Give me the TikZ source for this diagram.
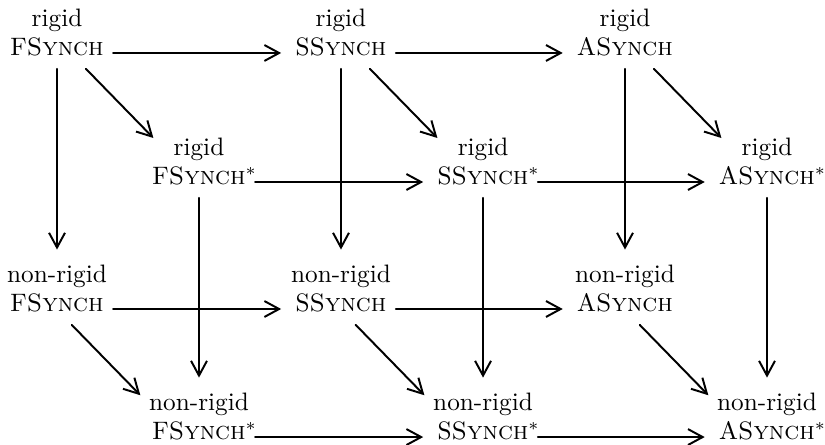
\documentclass[tikz,border=0pt]{standalone}
\usepackage{fontspec}
\usetikzlibrary{arrows.meta}
\tikzset{
  main/.style={inner xsep=3.7pt, inner ysep=0.5pt, text height=1.5ex, text depth=1.1ex},
  upper/.style={inner xsep=2pt, inner ysep=4pt, anchor=base},
  arr/.style={draw, line width=0.8pt, line cap=round, -{Straight Barb[length=6pt,width=6.5pt]}, shorten >=2pt},
}
\newcommand{\fsynch}{F\textsc{Synch}}
\newcommand{\ssynch}{S\textsc{Synch}}
\newcommand{\asynch}{A\textsc{Synch}}
\newcommand{\st}{\rlap{$^*$}}

\begin{document}
\fontsize{10.3}{12.4}\selectfont
\begin{tikzpicture}
  \useasboundingbox (0,0) rectangle (11.836,-6.370);
  % back face: rigid / non-rigid
  \coordinate (RF) at (0.818,-0.760);
  \coordinate (RS) at (4.892,-0.760);
  \coordinate (RA) at (8.967,-0.760);
  \coordinate (NF) at (0.818,-4.433);
  \coordinate (NS) at (4.892,-4.433);
  \coordinate (NA) at (8.967,-4.433);
  % front face: starred
  \coordinate (RFs) at ( 2.855,-2.611);
  \coordinate (RSs) at ( 6.930,-2.611);
  \coordinate (RAs) at (11.004,-2.611);
  \coordinate (NFs) at ( 2.855,-6.270);
  \coordinate (NSs) at ( 6.930,-6.270);
  \coordinate (NAs) at (11.004,-6.270);

  \node[main] (rF) at (RF) {\fsynch};
  \node[main] (rS) at (RS) {\ssynch};
  \node[main] (rA) at (RA) {\asynch};
  \node[main] (nF) at (NF) {\fsynch};
  \node[main] (nS) at (NS) {\ssynch};
  \node[main] (nA) at (NA) {\asynch};
  \node[main] (rFs) at (RFs) {\fsynch\st};
  \node[main] (rSs) at (RSs) {\ssynch\st};
  \node[main] (rAs) at (RAs) {\asynch\st};
  \node[main] (nFs) at (NFs) {\fsynch\st};
  \node[main] (nSs) at (NSs) {\ssynch\st};
  \node[main] (nAs) at (NAs) {\asynch\st};

  \node[upper] (rFu) at ([yshift=11.8pt]rF.base) {rigid};
  \node[upper] (rSu) at ([yshift=11.8pt]rS.base) {rigid};
  \node[upper] (rAu) at ([yshift=11.8pt]rA.base) {rigid};
  \node[upper] (nFu) at ([yshift=11.8pt]nF.base) {non-rigid};
  \node[upper] (nSu) at ([yshift=11.8pt]nS.base) {non-rigid};
  \node[upper] (nAu) at ([yshift=11.8pt]nA.base) {non-rigid};
  \node[upper] (rFsu) at ([yshift=11.8pt]rFs.base) {rigid};
  \node[upper] (rSsu) at ([yshift=11.8pt]rSs.base) {rigid};
  \node[upper] (rAsu) at ([yshift=11.8pt]rAs.base) {rigid};
  \node[upper] (nFsu) at ([yshift=11.8pt]nFs.base) {non-rigid};
  \node[upper] (nSsu) at ([yshift=11.8pt]nSs.base) {non-rigid};
  \node[upper] (nAsu) at ([yshift=11.8pt]nAs.base) {non-rigid};

  % horizontal
  \draw[arr] (rF) -- (rS);
  \draw[arr] (rS) -- (rA);
  \draw[arr] (rFs) -- (rSs);
  \draw[arr] (rSs) -- (rAs);
  \draw[arr] (nF) -- (nS);
  \draw[arr] (nS) -- (nA);
  \draw[arr] (nFs) -- (nSs);
  \draw[arr] (nSs) -- (nAs);
  % vertical
  \draw[arr] (rF.south) -- (nFu.north);
  \draw[arr] (rS.south) -- (nSu.north);
  \draw[arr] (rA.south) -- (nAu.north);
  \draw[arr] (rFs.south) -- (nFsu.north);
  \draw[arr] (rSs.south) -- (nSsu.north);
  \draw[arr] (rAs.south) -- (nAsu.north);
  % diagonal
  \draw[arr] ([xshift=11.8pt]rF.south) -- ([shift={(-4.7pt,3.1pt)}]rFsu.west);
  \draw[arr] ([xshift=11.8pt]rS.south) -- ([shift={(-4.7pt,3.1pt)}]rSsu.west);
  \draw[arr] ([xshift=11.8pt]rA.south) -- ([shift={(-4.7pt,3.1pt)}]rAsu.west);
  \draw[arr] ([xshift=6pt]nF.south) -- ([yshift=2.2pt]nFsu.west);
  \draw[arr] ([xshift=6pt]nS.south) -- ([yshift=2.2pt]nSsu.west);
  \draw[arr] ([xshift=6pt]nA.south) -- ([yshift=2.2pt]nAsu.west);
\end{tikzpicture}
\end{document}
